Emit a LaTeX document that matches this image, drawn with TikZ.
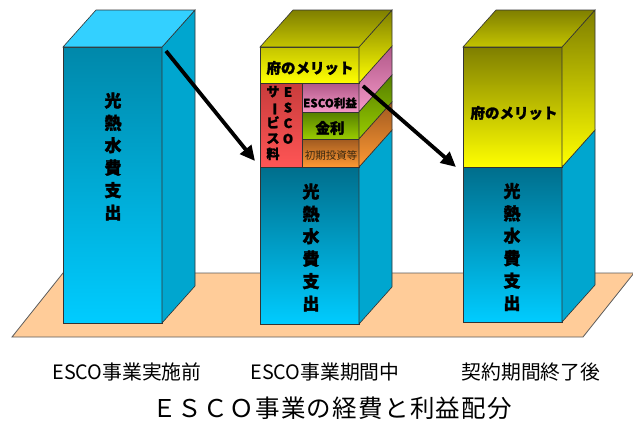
\documentclass[tikz,border=0pt]{standalone}
\usepackage{fontspec}
\usepackage{graphicx}
\usetikzlibrary{arrows.meta}
\newfontfamily\jp{Noto Sans CJK JP}
\newfontfamily\jpb{Noto Sans CJK JP}[FakeBold=1.6]
\definecolor{edgec}{HTML}{333333}
\definecolor{floorc}{HTML}{FFCC99}
\definecolor{bluetopA}{HTML}{0088AA}
\definecolor{bluetopB}{HTML}{006E8C}
\definecolor{bluebot}{HTML}{00CCFF}
\definecolor{blueside}{HTML}{00A6CF}
\definecolor{bluelid}{HTML}{33D0FF}
\definecolor{olive}{HTML}{7F7F00}
\definecolor{yel}{HTML}{FFFF00}
\definecolor{yelB}{HTML}{C4C400}
\definecolor{redA}{HTML}{C83C3C}
\definecolor{redB}{HTML}{FF5555}
\definecolor{pinkA}{HTML}{B05888}
\definecolor{pinkB}{HTML}{F598C8}
\definecolor{greenA}{HTML}{557F00}
\definecolor{greenB}{HTML}{99CC00}
\definecolor{orA}{HTML}{A05A20}
\definecolor{orB}{HTML}{FF9933}
\definecolor{brownt}{HTML}{3A2810}
\newcommand{\myfront}[6]{\path[edge, top color=#5, bottom color=#6] (#1,#3) rectangle (#2,#4);}
\newcommand{\myside}[5]{\path[edge, top color=#4, bottom color=#5] (#1,#2) -- (#1+33,#2-37) -- (#1+33,#3-37) -- (#1,#3) -- cycle;}
\newcommand{\mylid}[5]{\path[edge, top color=#4, bottom color=#5] (#1,#3) -- (#1+33,#3-37) -- (#2+33,#3-37) -- (#2,#3) -- cycle;}
\tikzset{
  edge/.style={draw=edgec, line width=0.6pt},
  vtext/.style={font=\jpb\bfseries\fontsize{17}{22.4}\selectfont, align=center, inner sep=0pt},
  mer/.style={font=\jpb\bfseries\fontsize{14.5}{16}\selectfont, inner sep=0pt},
  vsmall/.style={font=\jpb\bfseries\fontsize{13}{15.6}\selectfont, align=center, inner sep=0pt},
  lab/.style={font=\jp\fontsize{19.8}{22}\selectfont, inner sep=0pt},
  arr/.style={line width=3.8pt, -{Triangle[length=15pt,width=14pt]}}
}
\begin{document}
\begin{tikzpicture}[x=1pt,y=-1pt]
\useasboundingbox (0,0) rectangle (633,421);
% floor
\path[draw=edgec!80, line width=0.8pt, fill=floorc] (12,337) -- (583,337) -- (634,273) -- (63,273) -- cycle;
% box 1
\myfront{63}{162}{47}{323}{bluetopA}{bluebot}
\myside{162}{47}{323}{blueside}{blueside}
\mylid{63}{162}{47}{bluelid}{bluelid}
% box 2
\myfront{260}{359}{167}{324}{bluetopB}{bluebot}
\myside{359}{167}{324}{blueside}{blueside}
\myfront{260}{302}{83}{167}{redA}{redB}
\myfront{302}{359}{83}{112}{pinkA}{pinkB}
\myfront{302}{359}{112}{139}{greenA}{greenB}
\myfront{302}{359}{139}{167}{orA}{orB}
\myside{359}{83}{112}{pinkA}{pinkB}
\myside{359}{112}{139}{greenA}{greenB}
\myside{359}{139}{167}{orA}{orB}
\myfront{260}{359}{47}{83}{yelB}{yel}
\myside{359}{47}{83}{olive}{yel}
\mylid{260}{359}{47}{olive}{yelB}
% box 3
\myfront{463}{562}{167}{322}{bluetopB}{bluebot}
\myside{562}{167}{322}{blueside}{blueside}
\myfront{463}{562}{47}{167}{olive}{yel}
\myside{562}{47}{167}{olive}{yel}
\mylid{463}{562}{47}{olive}{yelB}
% texts
\node[vtext] (t1) at (113,156.5) {光\\熱\\水\\費\\支\\出};
\node[vtext] (t2) at (311,247.5) {光\\熱\\水\\費\\支\\出};
\node[vtext] (t3) at (512,247) {光\\熱\\水\\費\\支\\出};
\node[mer] (m2) at (310,68) {府のメリット};
\node[mer] (m3) at (514,113) {府のメリット};
\node[vsmall] (esco) at (288,115.5) {E\\S\\C\\O};
\node[vsmall] (serv) at (273,123) {サ\\\rotatebox[origin=c]{-90}{ー}\\ビ\\ス\\料};
\node[font=\jpb\bfseries\fontsize{11.5}{12}\selectfont, inner sep=0pt] (rieki) at (330,103) {ESCO利益};
\node[font=\jpb\bfseries\fontsize{14.5}{15}\selectfont, inner sep=0pt] (kinri) at (330,128) {金利};
\node[font=\jp\fontsize{10.5}{11}\selectfont, text=brownt, inner sep=0pt] (shoki) at (331,156) {初期投資等};
\node[lab] (l1) at (127,372) {ESCO事業実施前};
\node[lab] (l2) at (325,372) {ESCO事業期間中};
\node[lab] (l3) at (531,372) {契約期間終了後};
\node[font=\jp\fontsize{24.5}{26}\selectfont, inner sep=0pt] (title) at (332,408) {Ｅ\kern1.3ptＳ\kern1.3ptＣ\kern1.3ptＯ\kern1.3pt事\kern1.3pt業\kern1.3ptの\kern1.3pt経\kern1.3pt費\kern1.3ptと\kern1.3pt利\kern1.3pt益\kern1.3pt配\kern1.3pt分};
% arrows
\coordinate (a1s) at (166,51);
\coordinate (a1e) at (255,161);
\coordinate (a2s) at (363,86);
\coordinate (a2e) at (456,167);
\draw[arr] (a1s) -- (a1e);
\draw[arr] (a2s) -- (a2e);
\end{tikzpicture}
\end{document}
